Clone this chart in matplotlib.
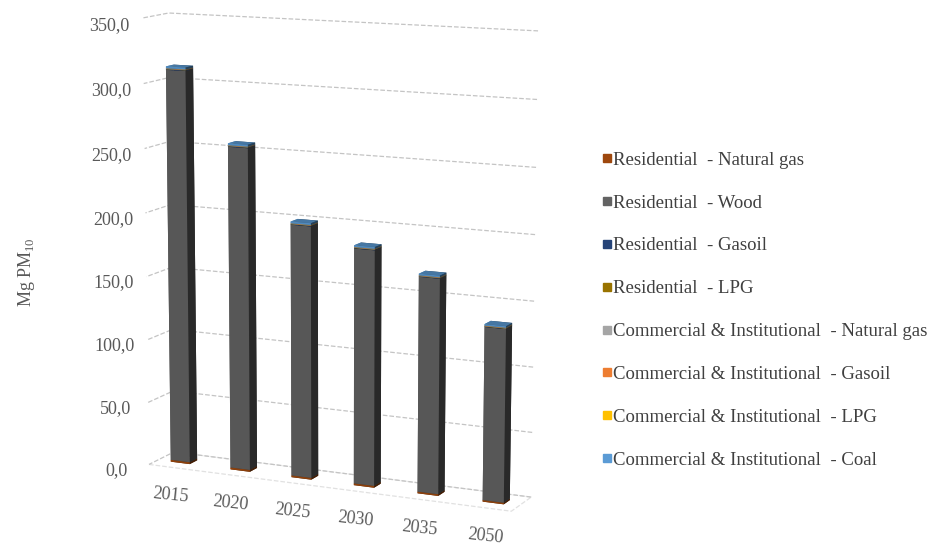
import matplotlib
matplotlib.use('Agg')
import matplotlib.pyplot as plt
from matplotlib.lines import Line2D
from matplotlib.ticker import FuncFormatter
import numpy as np

# emissions per year, Mg PM10, stacked from bottom to top
years = ['2015', '2020', '2025', '2030', '2035', '2050']
res_natural_gas = [1.5, 1.5, 1.4, 1.4, 1.3, 1.2]
res_wood = [308.0, 252.0, 196.0, 182.0, 165.0, 132.0]
res_gasoil = [0.4, 0.4, 0.3, 0.3, 0.3, 0.2]
res_lpg = [0.2, 0.2, 0.2, 0.2, 0.2, 0.2]
com_natural_gas = [0.3, 0.3, 0.3, 0.3, 0.3, 0.3]
com_gasoil = [0.2, 0.2, 0.2, 0.2, 0.2, 0.2]
com_lpg = [0.05, 0.05, 0.05, 0.05, 0.05, 0.05]
com_coal = [1.5, 1.5, 1.4, 1.4, 1.3, 1.2]

series = [res_natural_gas, res_wood, res_gasoil, res_lpg,
          com_natural_gas, com_gasoil, com_lpg, com_coal]
labels = ['Residential  - Natural gas', 'Residential  - Wood',
          'Residential  - Gasoil', 'Residential  - LPG',
          'Commercial & Institutional  - Natural gas',
          'Commercial & Institutional  - Gasoil',
          'Commercial & Institutional  - LPG',
          'Commercial & Institutional  - Coal']
colors = ['#9E480E', '#636363', '#264478', '#997300',
          '#A5A5A5', '#ED7D31', '#FFC000', '#5B9BD5']

plt.rcParams['font.family'] = ['Liberation Serif', 'DejaVu Serif']
plt.rcParams['mathtext.fontset'] = 'custom'
plt.rcParams['mathtext.rm'] = 'Liberation Serif'
plt.rcParams['grid.linestyle'] = '--'
plt.rcParams['grid.color'] = '#c4c4c4'
plt.rcParams['grid.linewidth'] = 0.9

txt = '#595959'

fig = plt.figure(figsize=(9.36, 5.45), dpi=100)
ax = fig.add_axes([0.0285, 0.0165, 0.645, 1.0], projection='3d')
ax.set_proj_type('persp', focal_length=0.9)
ax.view_init(elev=11, azim=-65)
ax.set_box_aspect((408, 55, 470), zoom=1.1)

n = len(years)
xs, ys, zs, dzs, cs = [], [], [], [], []
bottom = np.zeros(n)
for vals, col in zip(series, colors):
    vals = np.array(vals)
    for i in range(n):
        xs.append(i + 0.34)
        ys.append(0.35)
        zs.append(bottom[i])
        dzs.append(vals[i])
        cs.append(col)
    bottom += vals

ax.bar3d(xs, ys, zs, 0.32, 0.3, dzs, color=cs, shade=True)

ax.set_xlim(0.12, n - 0.12)
ax.set_ylim(0, 1)
ax.set_zlim(0, 350)
ax.set_xticks(np.arange(n) + 0.5)
ax.set_xticklabels(years, fontsize=13, color=txt, rotation=-6)
ax.set_yticks([])
ax.set_zticks(np.arange(0, 351, 50))
ax.zaxis.set_major_formatter(FuncFormatter(lambda v, p: f'{v:.1f}'.replace('.', ',')))
ax.tick_params(axis='z', labelsize=13, labelcolor=txt, pad=10)
ax.tick_params(axis='x', pad=0)
ax.zaxis.set_ticks_position('lower')

for axis in (ax.xaxis, ax.yaxis, ax.zaxis):
    axis.pane.set_facecolor((1, 1, 1, 0))
    axis.pane.set_edgecolor((1, 1, 1, 0))
    axis.line.set_color((1, 1, 1, 0))
    axis._axinfo['tick']['inward_factor'] = 0
    axis._axinfo['tick']['outward_factor'] = 0
ax.xaxis._axinfo['grid']['color'] = (1, 1, 1, 0)

# dashed outline of the floor
ax.zaxis.pane.set_edgecolor('#c4c4c4')
ax.zaxis.pane.set_linestyle('--')
ax.zaxis.pane.set_linewidth(0.9)

fig.text(0.028, 0.5, r'Mg PM$_{\mathregular{10}}$', rotation=90, fontsize=13,
         color=txt, va='center', ha='center')

handles = [Line2D([], [], marker='s', linestyle='none', markersize=6,
                  markerfacecolor=c, markeredgecolor=c) for c in colors]
fig.legend(handles, labels, loc='center left', bbox_to_anchor=(0.625, 0.431),
           frameon=False, fontsize=13.5, labelcolor='#404040',
           handlelength=0.5, handletextpad=0.1, labelspacing=1.37)

fig.savefig('out.png', dpi=100)
